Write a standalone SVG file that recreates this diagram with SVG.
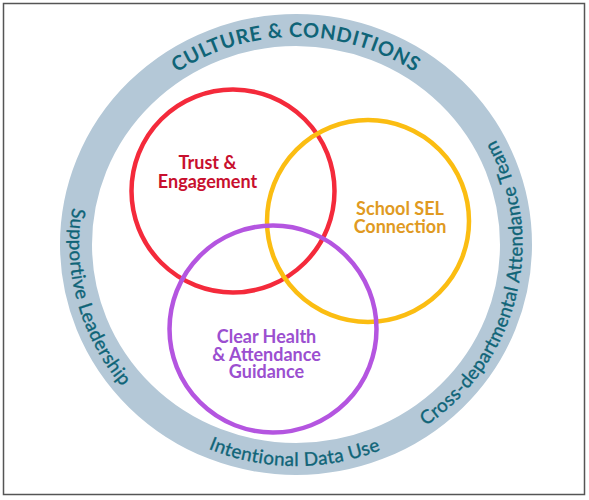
<svg xmlns="http://www.w3.org/2000/svg" width="589" height="500" viewBox="0 0 589 500">
<style>
.ring-text{font-family:Lato,"Open Sans","DejaVu Sans",sans-serif;fill:#0f6477;}
.top{font-size:20px;font-weight:700;letter-spacing:0.7px;}
.side{font-size:18.8px;font-weight:400;letter-spacing:0.4px;stroke:#0f6477;stroke-width:0.35px;}
.lbl{font-family:Lato,"Open Sans","DejaVu Sans",sans-serif;font-size:18px;font-weight:700;text-anchor:middle;}
.venn{fill:none;stroke-width:4.5;}
</style>
<defs>
<path id="topArc" d="M296,452 A213,207.5 0 0 1 296,37 A213,207.5 0 0 1 296,452"/>
<path id="ccwArc" d="M296,23 A226.5,221.5 0 0 0 296,466 A226.5,221.5 0 0 0 296,23"/>
</defs>
<rect x="3.5" y="3.5" width="581" height="491" fill="#ffffff" stroke="#555555" stroke-width="1.5"/>
<g id="ring">
<ellipse cx="296" cy="244.5" rx="220" ry="214.5" fill="none" stroke="#b4c8d7" stroke-width="32"/>
<text class="ring-text top"><textPath href="#topArc" startOffset="50%" text-anchor="middle">CULTURE &amp; CONDITIONS</textPath></text>
<text class="ring-text side"><textPath href="#ccwArc" startOffset="29.2%" text-anchor="middle">Supportive Leadership</textPath></text>
<text class="ring-text side"><textPath href="#ccwArc" startOffset="49.9%" text-anchor="middle">Intentional Data Use</textPath></text>
<text class="ring-text side"><textPath href="#ccwArc" startOffset="71.3%" text-anchor="middle">Cross-departmental Attendance Team</textPath></text>
</g>
<g id="trust">
<circle class="venn" cx="233" cy="191" r="101.5" stroke="#f42a3b"/>
<text class="lbl" fill="#c8102e"><tspan x="207.5" y="169">Trust &amp;</tspan><tspan x="207.5" y="187.5">Engagement</tspan></text>
</g>
<g id="sel">
<circle class="venn" cx="368" cy="221" r="101" stroke="#fbbd12"/>
<text class="lbl" fill="#e09a22"><tspan x="400" y="215">School SEL</tspan><tspan x="400" y="233">Connection</tspan></text>
</g>
<g id="health">
<circle class="venn" cx="273" cy="329" r="103.5" stroke="#b455e0"/>
<text class="lbl" fill="#9b4fd0"><tspan x="266.5" y="342.5">Clear Health</tspan><tspan x="266.5" y="360.5">&amp; Attendance</tspan><tspan x="266.5" y="378">Guidance</tspan></text>
</g>
<g id="connectors"></g>
</svg>
